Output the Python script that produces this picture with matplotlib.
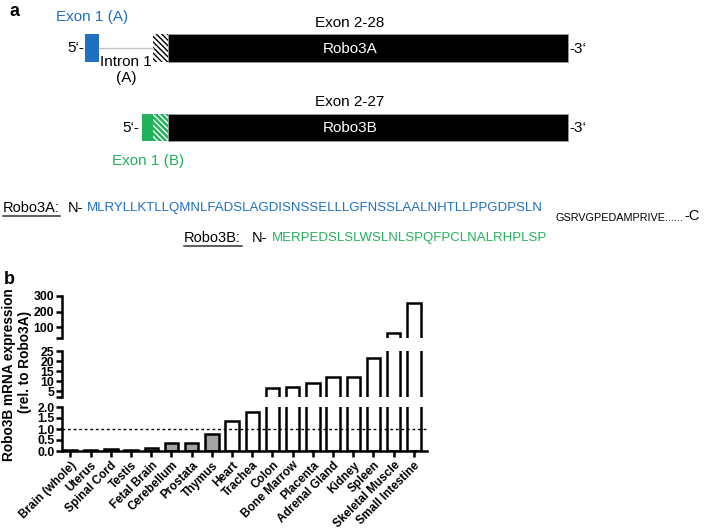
import matplotlib
matplotlib.use('Agg')
import matplotlib.pyplot as plt
from matplotlib.patches import Rectangle
import numpy as np

plt.rcParams['font.family'] = ['Liberation Sans', 'DejaVu Sans']
plt.rcParams['hatch.linewidth'] = 1.0

# ---- data ----
tissues = ['Brain (whole)', 'Uterus', 'Spinal Cord', 'Testis', 'Fetal Brain',
           'Cerebellum', 'Prostata', 'Thymus', 'Heart', 'Trachea', 'Colon',
           'Bone Marrow', 'Placenta', 'Adrenal Gland', 'Kidney', 'Spleen',
           'Skeletal Muscle', 'Small Intestine']
expression = [0.06, 0.05, 0.08, 0.05, 0.15, 0.38, 0.38, 0.77, 1.38, 1.77, 6.5,
              7.2, 9.2, 11.8, 12.2, 21.3, 59, 255]

# broken y axis: (low, high) limits, ticks and tick labels per segment
seg_limits = [(30, 300), (2, 25), (0, 2)]
seg_ticks = [[30, 100, 200, 300], [2, 5, 10, 15, 20, 25], [0, 0.5, 1.0, 1.5, 2.0]]
seg_labels = [['', '100', '200', '300'], ['', '5', '10', '15', '20', '25'],
              ['0.0', '0.5', '1.0', '1.5', '2.0']]

seqA = 'MLRYLLKTLLQMNLFADSLAGDISNSSELLLGFNSSLAALNHTLLPPGDPSLN'
seqB = 'MERPEDSLSLWSLNLSPQFPCLNALRHPLSP'
seq_common = 'GSRVGPEDAMPRIVE......'

blue = '#1f70c1'
green = '#21b25a'

W, H = 710, 532
fig = plt.figure(figsize=(W / 100, H / 100), dpi=100)

# ---- panel a: drawn on a pixel canvas ----
ax = fig.add_axes([0, 0, 1, 1])
ax.set_xlim(0, W)
ax.set_ylim(H, 0)
ax.axis('off')

ax.text(15, 12, 'a', fontsize=13, fontweight='bold', ha='center', va='center')

# Robo3A gene
ax.text(92, 17, 'Exon 1 (A)', color=blue, fontsize=11, ha='center', va='center')
ax.text(350, 23, 'Exon 2-28', fontsize=11, ha='center', va='center')
ax.text(76, 48, '5‘-', fontsize=11, ha='center', va='center')
ax.plot([99, 153], [48, 48], color='#c4c4c4', lw=1)
ax.add_patch(Rectangle((85, 34), 14, 28, facecolor=blue, edgecolor='none'))
ax.add_patch(Rectangle((153, 34), 15, 28, facecolor='white', edgecolor='black',
                       hatch='\\\\\\\\\\\\', lw=0))
ax.add_patch(Rectangle((168, 34), 400, 28, facecolor='black', edgecolor='#999999', lw=0.6))
ax.text(350, 49, 'Robo3A', color='white', fontsize=11, ha='center', va='center')
ax.text(578, 49, '-3‘', fontsize=11, ha='center', va='center')
ax.text(126, 70, 'Intron 1\n(A)', fontsize=11, ha='center', va='center', linespacing=1.15)

# Robo3B gene
ax.text(350, 102, 'Exon 2-27', fontsize=11, ha='center', va='center')
ax.text(131, 128, '5‘-', fontsize=11, ha='center', va='center')
ax.add_patch(Rectangle((142, 114), 11, 27, facecolor=green, edgecolor='none'))
ax.add_patch(Rectangle((153, 114), 15, 27, facecolor=green, edgecolor='white',
                       hatch='\\\\\\\\\\\\', lw=0))
ax.add_patch(Rectangle((168, 114), 400, 27, facecolor='black', edgecolor='#999999', lw=0.6))
ax.text(350, 128, 'Robo3B', color='white', fontsize=11, ha='center', va='center')
ax.text(578, 128, '-3‘', fontsize=11, ha='center', va='center')
ax.text(148, 161, 'Exon 1 (B)', color=green, fontsize=11, ha='center', va='center')

# protein N-termini
ax.text(3, 208, 'Robo3A:', fontsize=10.5, ha='left', va='center')
ax.plot([3, 60], [216, 216], color='#333333', lw=1.1)
ax.text(68, 208, 'N-', fontsize=10.5, ha='left', va='center')
ax.text(87, 208, seqA, color=blue, fontsize=9.5, ha='left', va='center')
common = ax.text(555, 218, seq_common, fontsize=7.8, ha='left', va='center')
ax.annotate('-C', xy=(1, 0.75), xycoords=common, xytext=(1, 0), textcoords='offset points',
            fontsize=10.5, ha='left', va='center')
ax.text(184, 238, 'Robo3B:', fontsize=10.5, ha='left', va='center')
ax.plot([184, 242], [246, 246], color='#333333', lw=1.1)
ax.text(252, 238, 'N-', fontsize=10.5, ha='left', va='center')
ax.text(272, 238, seqB, color=green, fontsize=9.5, ha='left', va='center')

ax.text(9, 279, 'b', fontsize=13, fontweight='bold', ha='center', va='center')


# ---- panel b: bar chart with broken y axis ----
def px_axes(left, top, right, bottom):
    return fig.add_axes([left / W, 1 - bottom / H, (right - left) / W, (bottom - top) / H])


ax_top = px_axes(62, 296, 427, 338)
ax_mid = px_axes(62, 351, 427, 397)
ax_bot = px_axes(62, 407, 427, 451)
seg_axes = [ax_top, ax_mid, ax_bot]

x = np.arange(len(tissues))
fills = ['#a3a3a3' if v < 1 else 'white' for v in expression]

for sax, lim, ticks, labels in zip(seg_axes, seg_limits, seg_ticks, seg_labels):
    lo, hi = lim
    # only bars reaching into this segment, so thick edges below it don't bleed in
    heights = [v if (v > lo or lo == 0) else 0 for v in expression]
    sax.bar(x, heights, width=0.66, color=fills, edgecolor='black', linewidth=1.8)
    sax.set_xlim(-0.42, 17.65)
    sax.set_ylim(lo, hi)
    sax.set_yticks(ticks, labels, fontsize=8.8, fontweight='bold')
    sax.tick_params(axis='y', direction='out', length=4, width=1.8, pad=1.5)
    for side in ['top', 'right']:
        sax.spines[side].set_visible(False)
    sax.spines['left'].set_linewidth(1.8)
    sax.patch.set_alpha(0)
    if sax is not ax_bot:
        sax.spines['bottom'].set_visible(False)
        sax.set_xticks([])

ax_bot.spines['bottom'].set_linewidth(1.8)
ax_bot.axhline(1.0, color='black', lw=1, ls=(0, (2, 2)))
ax_bot.set_xticks(x, tissues, rotation=45, ha='right', rotation_mode='anchor',
                  fontsize=8.5, fontweight='bold')
ax_bot.tick_params(axis='x', direction='out', length=4, width=1.8, pad=2)

fig.text(9 / W, 1 - 375 / H, 'Robo3B mRNA expression', rotation=90,
         ha='center', va='center', fontsize=9.8, fontweight='bold')
fig.text(25 / W, 1 - 362 / H, '(rel. to Robo3A)', rotation=90,
         ha='center', va='center', fontsize=9.8, fontweight='bold')

fig.savefig('out.png', dpi=100)
